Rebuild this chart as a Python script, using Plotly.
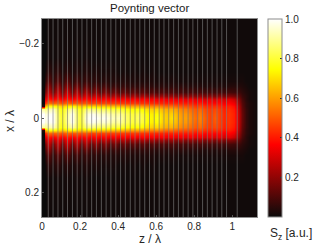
import plotly.graph_objects as go

title = "Poynting vector"
x_half = [0, .012, .024, .032, .04, .05, .06, .07, .085, .1, .125, .16, .27]
z_stations = [0, .014, .018, .032, .057, .082, .107, .132, .157, .182, .207, .232, .257,
              .282, .307, .332, .357, .382, .407, .432, .457, .482, .507, .532, .557,
              .582, .607, .632, .657, .682, .707, .732, .757, .782, .807, .832, .857,
              .882, .907, .932, .957, .982, 1.007, 1.03, 1.05, 1.07, 1.09, 1.13]
# Sz read per z station, from the axis outwards
sz_columns = [
    [1.0, 1.0, .90, .04, .00, .00, .00, .00, .00, .00, .00, .00, .00],
    [1.0, 1.0, .90, .06, .01, .00, .00, .00, .00, .00, .00, .00, .00],
    [.98, .96, .88, .62, .42, .30, .22, .14, .08, .04, .01, .00, .00],
    [1.0, .98, .90, .76, .54, .42, .37, .31, .22, .14, .06, .02, .01],
    [1.0, 1.0, .94, .76, .50, .35, .24, .14, .08, .05, .03, .01, .01],
    [.85, .84, .81, .72, .53, .42, .37, .31, .22, .13, .06, .02, .01],
    [.78, .77, .75, .66, .47, .34, .22, .13, .07, .04, .02, .01, .01],
    [.90, .89, .84, .72, .53, .42, .37, .31, .21, .13, .05, .02, .01],
    [1.0, 1.0, .92, .74, .48, .35, .23, .13, .07, .04, .02, .01, .01],
    [.85, .84, .81, .71, .51, .41, .36, .29, .18, .10, .04, .02, .01],
    [.80, .79, .76, .66, .47, .34, .22, .12, .06, .04, .02, .01, .01],
    [.97, .95, .87, .70, .50, .40, .34, .26, .15, .08, .04, .02, .01],
    [1.0, .99, .87, .68, .45, .34, .23, .12, .06, .04, .02, .01, .01],
    [1.0, .97, .85, .68, .48, .39, .32, .22, .12, .06, .03, .01, .01],
    [.97, .94, .83, .66, .45, .34, .22, .11, .06, .03, .02, .01, .01],
    [.99, .96, .84, .67, .47, .38, .30, .19, .10, .05, .02, .01, .01],
    [.95, .92, .81, .65, .45, .34, .21, .11, .05, .03, .02, .01, .01],
    [.92, .89, .80, .65, .46, .37, .28, .17, .08, .04, .02, .01, .01],
    [.94, .91, .80, .64, .45, .34, .21, .10, .05, .03, .01, .01, .01],
    [.86, .85, .77, .63, .45, .37, .27, .15, .07, .04, .02, .01, .01],
    [.83, .82, .75, .61, .44, .34, .20, .10, .05, .03, .01, .01, .01],
    [.81, .80, .74, .61, .45, .37, .26, .14, .06, .03, .02, .01, .01],
    [.85, .83, .75, .61, .44, .34, .20, .10, .05, .03, .01, .01, .01],
    [.80, .79, .73, .59, .44, .37, .25, .13, .06, .03, .02, .01, .01],
    [.75, .74, .69, .57, .43, .34, .20, .09, .05, .03, .01, .01, .01],
    [.73, .72, .67, .56, .43, .36, .24, .12, .05, .03, .02, .01, .01],
    [.77, .75, .69, .57, .42, .33, .19, .09, .04, .02, .01, .01, .01],
    [.69, .68, .64, .54, .42, .36, .23, .11, .05, .03, .01, .01, .01],
    [.67, .66, .62, .52, .41, .33, .19, .09, .04, .02, .01, .01, .01],
    [.70, .68, .63, .53, .42, .35, .22, .11, .05, .03, .01, .01, .01],
    [.64, .63, .59, .50, .41, .32, .18, .08, .04, .02, .01, .01, .01],
    [.60, .59, .56, .49, .41, .35, .22, .10, .05, .02, .01, .01, .01],
    [.60, .59, .55, .48, .40, .32, .18, .08, .04, .02, .01, .01, .01],
    [.56, .55, .52, .47, .41, .35, .21, .10, .04, .02, .01, .01, .01],
    [.52, .51, .49, .44, .38, .31, .18, .08, .04, .02, .01, .01, .01],
    [.56, .55, .52, .47, .41, .34, .21, .10, .04, .02, .01, .01, .01],
    [.50, .49, .47, .43, .37, .30, .17, .08, .03, .02, .01, .01, .01],
    [.46, .46, .45, .42, .38, .33, .20, .09, .04, .02, .01, .01, .01],
    [.50, .49, .47, .43, .37, .30, .17, .08, .03, .02, .01, .01, .01],
    [.46, .46, .45, .42, .38, .33, .20, .09, .04, .02, .01, .01, .01],
    [.42, .42, .41, .39, .35, .29, .17, .08, .03, .02, .01, .01, .01],
    [.44, .44, .43, .41, .37, .32, .19, .09, .04, .02, .01, .01, .01],
    [.41, .41, .40, .38, .34, .28, .17, .08, .04, .02, .01, .01, .01],
    [.30, .30, .29, .27, .24, .20, .14, .08, .04, .02, .01, .01, .01],
    [.14, .14, .13, .12, .11, .09, .07, .05, .03, .02, .01, .01, .01],
    [.06, .06, .06, .05, .05, .04, .04, .03, .02, .01, .01, .01, .01],
    [.03, .03, .03, .03, .03, .02, .02, .02, .01, .01, .01, .01, .01],
    [.01, .01, .01, .01, .01, .01, .01, .01, .01, .01, .01, .01, .01],
]
layer_lines = [.033, .058, .084, .109, .134, .16, .185, .21, .236, .261, .286, .312, .337,
               .362, .388, .413, .438, .464, .489, .514, .54, .565, .59, .616, .641, .666,
               .692, .717, .742, .768, .793, .818, .844, .869, .894, .92, .945, .97, 1.026]
x_ticks = [0, .2, .4, .6, .8, 1]
x_ticktext = ["0", "0.2", "0.4", "0.6", "0.8", "1"]
y_ticks = [-.2, 0, .2]
y_ticktext = ["\u22120.2", "0", "0.2"]
bar_ticks = [.2, .4, .6, .8, 1.0]
bar_ticktext = ["0.2", "0.4", "0.6", "0.8", "1.0"]
hot_scale = [[0, "rgb(10,10,10)"], [.365, "rgb(255,0,0)"], [.746, "rgb(255,255,0)"], [1, "rgb(255,255,255)"]]

x_full = [-v for v in reversed(x_half[1:])] + x_half
z_matrix = []
for i in range(len(x_full)):
    row_i = abs(i - (len(x_half) - 1))
    z_matrix.append([c[row_i] for c in sz_columns])

FONT = "Liberation Sans"
FRAME = "#8c8c8c"

fig = go.Figure()
fig.add_trace(go.Heatmap(
    x=z_stations, y=x_full, z=z_matrix, zmin=0, zmax=1, zsmooth="best",
    colorscale=hot_scale,
    colorbar=dict(
        x=1.051, xanchor="left", y=0, yanchor="bottom", len=1, lenmode="fraction",
        thickness=14, thicknessmode="pixels", xpad=0, ypad=0,
        outlinecolor=FRAME, outlinewidth=1,
        tickmode="array", tickvals=bar_ticks, ticktext=bar_ticktext,
        ticks="inside", ticklen=2, tickcolor="#333", tickwidth=1,
        tickfont=dict(family=FONT, size=10, color="#262626"),
    ),
    hoverinfo="skip",
))
lx, ly = [], []
for v in layer_lines:
    lx += [v, v, None]
    ly += [-.266, .266, None]
fig.add_trace(go.Scatter(x=lx, y=ly, mode="lines", showlegend=False, hoverinfo="skip",
                         line=dict(color="rgba(125,125,125,0.65)", width=1)))

fig.update_layout(
    width=326, height=245, margin=dict(l=42, r=69, t=19, b=28, pad=0, autoexpand=False),
    paper_bgcolor="white", plot_bgcolor="black", showlegend=False,
    font=dict(family=FONT, size=10, color="#262626"),
    annotations=[
        dict(text=title, xref="paper", yref="paper", x=.5, y=1, yshift=3, xanchor="center",
             yanchor="bottom", showarrow=False, font=dict(family=FONT, size=11.5, color="#1a1a1a")),
        dict(text="z / \u03bb", xref="paper", yref="paper", x=.5, y=0, yshift=-13, xanchor="center",
             yanchor="top", showarrow=False, font=dict(family=FONT, size=12, color="#262626")),
        dict(text="x / \u03bb", xref="paper", yref="paper", x=0, y=.5, xshift=-32, yshift=-3, xanchor="center",
             yanchor="middle", textangle=-90, showarrow=False,
             font=dict(family=FONT, size=12, color="#262626")),
        dict(text="S<sub>z</sub> [a.u.]", xref="paper", yref="paper", x=1.05, y=0, yshift=-7,
             xanchor="left", yanchor="top", showarrow=False,
             font=dict(family=FONT, size=12, color="#262626")),
    ],
)
fig.update_xaxes(range=[0, 1.13], tickmode="array", tickvals=x_ticks, ticktext=x_ticktext,
                 ticks="inside", ticklen=2, tickcolor="#555", showgrid=False, zeroline=False,
                 showline=True, linecolor=FRAME, mirror=True, linewidth=1, automargin=False,
                 tickfont=dict(family=FONT, size=10))
fig.update_yaxes(range=[.266, -.266], tickmode="array", tickvals=y_ticks, ticktext=y_ticktext,
                 ticks="inside", ticklen=2, tickcolor="#555", showgrid=False, zeroline=False,
                 showline=True, linecolor=FRAME, mirror=True, linewidth=1, automargin=False,
                 tickfont=dict(family=FONT, size=10))

fig.write_html("out.html", config={"displayModeBar": False},
               post_script="document.body.style.margin='0';")
